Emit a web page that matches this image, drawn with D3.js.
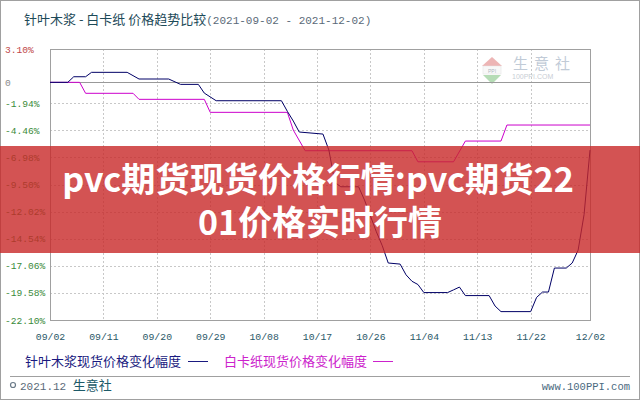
<!DOCTYPE html>
<html><head><meta charset="utf-8">
<script src="https://cdn.jsdelivr.net/npm/d3@7"></script>
<style>body{margin:0;background:#fff}svg{display:block}</style>
</head><body>
<svg id="c" width="640" height="400"></svg>
<script>
// ---- data ----
const pulpDates = ["2021-09-02","2021-09-05","2021-09-06","2021-09-08","2021-09-09","2021-09-15","2021-09-17","2021-09-22","2021-09-24","2021-09-27","2021-09-28","2021-09-30","2021-10-11","2021-10-12","2021-10-13","2021-10-14","2021-10-18","2021-10-19","2021-10-20","2021-10-21","2021-10-24","2021-10-25","2021-10-27","2021-10-28","2021-10-29","2021-10-31","2021-11-01","2021-11-02","2021-11-03","2021-11-04","2021-11-08","2021-11-09","2021-11-10","2021-11-11","2021-11-15","2021-11-16","2021-11-17","2021-11-22","2021-11-23","2021-11-24","2021-11-25","2021-11-26","2021-11-28","2021-11-29","2021-11-30","2021-12-01","2021-12-02"];
const pulpValues = [0,0,0.52,0.52,0.93,0.93,0.31,0.31,-0.19,-0.19,-1.0,-1.71,-1.71,-2.7,-3.6,-4.62,-4.81,-6.3,-9.3,-9.71,-9.71,-10.95,-13.9,-15.2,-16.8,-16.9,-17.9,-18.5,-18.8,-19.55,-19.55,-19.3,-19.04,-19.83,-19.83,-20.8,-21.32,-21.32,-20.0,-19.5,-19.5,-17.27,-17.27,-16.8,-15.6,-12.3,-6.3];
const boardDates = ["2021-09-02","2021-09-07","2021-09-08","2021-09-16","2021-09-17","2021-09-28","2021-09-29","2021-10-12","2021-10-13","2021-10-15","2021-11-02","2021-11-03","2021-11-09","2021-11-11","2021-11-17","2021-11-18","2021-12-02"];
const boardValues = [0,0,-1.02,-1.02,-1.58,-1.58,-2.79,-2.79,-4.44,-6.36,-6.36,-7.39,-7.39,-5.46,-5.46,-3.97,-3.97];
const xTickDates = ["2021-09-02","2021-09-11","2021-09-20","2021-09-29","2021-10-08","2021-10-17","2021-10-26","2021-11-04","2021-11-13","2021-11-22","2021-12-02"];
const xTickLabels = ["09/02","09/11","09/20","09/29","10/08","10/17","10/26","11/04","11/13","11/22","12/02"];
const yTickValues = [3.10,0,-1.94,-4.46,-6.98,-9.50,-12.02,-14.54,-17.06,-19.58,-22.10];
const yTickLabels = ["3.10%","0","-1.94%","-4.46%","-6.98%","-9.50%","-12.02%","-14.54%","-17.06%","-19.58%","-22.10%"];
const seriesNames = ["针叶木浆现货价格变化幅度","白卡纸现货价格变化幅度"];
const titleMain = "针叶木浆 - 白卡纸 价格趋势比较";
const titleRange = "(2021-09-02 - 2021-12-02)";
const bannerLines = ["pvc期货现货价格行情:pvc期货22","01价格实时行情"];

// ---- drawing ----
const parse = d3.timeParse("%Y-%m-%d");
const svg = d3.select("#c");
const L=50,R=590,T=49,B=320;
const x = d3.scaleTime().domain([parse("2021-09-02"),parse("2021-12-02")]).range([L,R]);
const y = d3.scaleLinear().domain([-22.10,3.10]).range([B,T]);
const cjk = "'Noto Sans CJK SC','Noto Sans',sans-serif";
const mono = "'Liberation Mono','DejaVu Sans Mono',monospace";

// outer frame
svg.append("rect").attr("x",0.5).attr("y",0.5).attr("width",639).attr("height",399)
  .attr("fill","#fff").attr("stroke","#a0a0a0");

// title
const tt = svg.append("text").attr("x",24).attr("y",24).attr("font-size",13);
tt.append("tspan").attr("font-family",cjk).attr("fill","#1d4a58").text(titleMain);
tt.append("tspan").attr("font-family",mono).attr("font-size",11).attr("fill","#5a6a78").text(titleRange);

// watermark logo
const wm = svg.append("g").attr("opacity",0.55);
wm.append("path").attr("d","M482,66 L492,57 L502,66 Z").attr("fill","#e07a7a");
wm.append("rect").attr("x",483).attr("y",66).attr("width",18).attr("height",8).attr("fill","#f4f4f4").attr("stroke","#ccc").attr("stroke-width",0.5);
wm.append("text").attr("x",492).attr("y",72.5).attr("text-anchor","middle").attr("font-size",5).attr("font-family","sans-serif").attr("fill","#6a7a8a").text("PPI");
wm.append("path").attr("d","M483,75 L492,84 L501,75 Z").attr("fill","#7cc07c");
wm.append("text").attr("x",513).attr("y",69).attr("font-size",15).attr("font-family",cjk).attr("fill","#8fa2b8").attr("letter-spacing",6).text("生意社");
wm.append("text").attr("x",512).attr("y",79).attr("font-size",7).attr("font-family","sans-serif").attr("fill","#9aa6b2").text("100PPI.COM");

// grid
const xt = xTickDates.map(parse);
svg.append("g").selectAll("line").data(xt.slice(1,-1)).join("line")
  .attr("x1",d=>Math.round(x(d))+0.5).attr("x2",d=>Math.round(x(d))+0.5)
  .attr("y1",T).attr("y2",B).attr("stroke","#c8c8c8").attr("stroke-dasharray","2,2");
svg.append("g").selectAll("line").data(yTickValues.filter(v=>v!==0 && v!==3.10 && v!==-22.10)).join("line")
  .attr("x1",L).attr("x2",R).attr("y1",d=>Math.round(y(d))+0.5).attr("y2",d=>Math.round(y(d))+0.5)
  .attr("stroke","#c8c8c8").attr("stroke-dasharray","2,2");
svg.append("line").attr("x1",L).attr("x2",R).attr("y1",Math.round(y(0))+0.5).attr("y2",Math.round(y(0))+0.5)
  .attr("stroke","#999");
svg.append("rect").attr("x",L+0.5).attr("y",T+0.5).attr("width",R-L).attr("height",B-T)
  .attr("fill","none").attr("stroke","#a0a0a0");

// axes
const ya = svg.append("g").attr("transform",`translate(${L},0)`)
  .call(d3.axisLeft(y).tickValues(yTickValues).tickSize(0).tickFormat((d,i)=>yTickLabels[i]));
ya.select(".domain").remove();
ya.selectAll("text").attr("x",-45).attr("text-anchor","start").attr("font-family",mono).attr("font-size",9.6)
  .attr("fill",d=>d>0?"#c04848":(d===0?"#8a8a8a":"#3a8a3a"));
const xa = svg.append("g").attr("transform",`translate(0,${B})`)
  .call(d3.axisBottom(x).tickValues(xt).tickSize(0).tickFormat((d,i)=>xTickLabels[i]));
xa.select(".domain").remove();
xa.selectAll("text").attr("y",13).attr("font-family",mono).attr("font-size",9.8).attr("fill","#2a5868");

// lines
const line = d3.line().x(d=>x(d[0])).y(d=>y(d[1]));
svg.append("path").datum(boardDates.map((d,i)=>[parse(d),boardValues[i]]))
  .attr("d",line).attr("fill","none").attr("stroke","#cc00cc").attr("stroke-width",1);
svg.append("path").datum(pulpDates.map((d,i)=>[parse(d),pulpValues[i]]))
  .attr("d",line).attr("fill","none").attr("stroke","#000066").attr("stroke-width",1);

// legend
svg.append("text").attr("x",25).attr("y",366).attr("font-family",cjk).attr("font-size",13).attr("fill","#1a1a80").text(seriesNames[0]);
svg.append("line").attr("x1",188).attr("x2",208).attr("y1",361.5).attr("y2",361.5).attr("stroke","#1a1a80");
svg.append("text").attr("x",224).attr("y",366).attr("font-family",cjk).attr("font-size",13).attr("fill","#cc22cc").text(seriesNames[1]);
svg.append("line").attr("x1",373).attr("x2",393).attr("y1",361.5).attr("y2",361.5).attr("stroke","#cc22cc");

// footer
svg.append("line").attr("x1",10).attr("x2",630).attr("y1",376.5).attr("y2",376.5).attr("stroke","#a0a0a0");
svg.append("circle").attr("cx",13).attr("cy",385).attr("r",2.5).attr("fill","none").attr("stroke","#6a7a88").attr("stroke-width",1.2);
const ft = svg.append("text").attr("x",20).attr("y",390);
ft.append("tspan").attr("font-family",mono).attr("font-size",11).attr("fill","#5a6a78").text("2021.12 ");
ft.append("tspan").attr("font-family",cjk).attr("font-size",13).attr("fill","#1d5a68").text("生意社");
svg.append("text").attr("x",630).attr("y",390).attr("text-anchor","end").attr("font-family",mono).attr("font-size",10.5).attr("fill","#4a6a80").text("www.100PPI.com");

// banner overlay
svg.append("rect").attr("x",0).attr("y",146).attr("width",640).attr("height",107)
  .attr("fill","rgb(200,40,40)").attr("opacity",0.8);
const targetW = [512, 244], cx = [318, 320], by = [192, 235];
svg.append("g").selectAll("text").data(bannerLines).join("text")
  .attr("x",(d,i)=>cx[i]).attr("y",(d,i)=>by[i]).attr("text-anchor","middle")
  .attr("font-family",cjk).attr("font-weight","bold").attr("font-size",34).attr("fill","#fff").text(d=>d)
  .each(function(d,i){
    const w = this.getComputedTextLength();
    if (w>0) d3.select(this).attr("font-size", 34*targetW[i]/w);
  });
</script>
</body></html>
